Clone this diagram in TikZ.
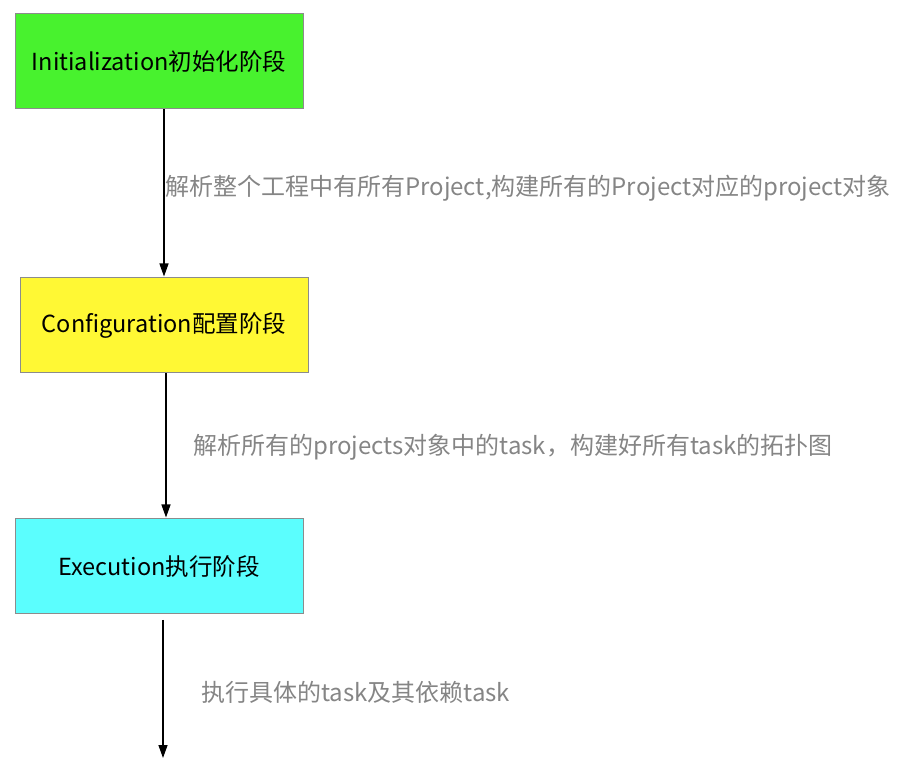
\documentclass[tikz,border=0pt]{standalone}
\usepackage{fontspec}
\setmainfont{Noto Sans CJK SC}
\usetikzlibrary{arrows.meta}
\definecolor{cgreen}{HTML}{48F22E}
\definecolor{cyellow}{HTML}{FFF834}
\definecolor{ccyan}{HTML}{5BFEFE}
\definecolor{cborder}{HTML}{8C8C8C}
\definecolor{clabel}{HTML}{858585}
\begin{document}
\begin{tikzpicture}[x=1pt,y=1pt,
  stage/.style={draw=cborder,line width=1pt,minimum width=288pt,minimum height=95pt,inner sep=0pt,
    font=\fontsize{23.5}{27}\selectfont,text=black},
  lbl/.style={anchor=west,inner sep=0pt,text=clabel,font=\fontsize{24}{28}\selectfont},
  flow/.style={line width=1.3pt,-{Triangle[length=13pt,width=9pt]}}]
\useasboundingbox (0,0) rectangle (922,772);
\node[stage,fill=cgreen] (b1) at (159,710.5) {Initialization初始化阶段};
\node[stage,fill=cyellow] (b2) at (164,446.5) {Configuration配置阶段};
\node[stage,fill=ccyan] (b3) at (159,205.5) {Execution执行阶段};
\coordinate (end3) at (163,14);
\coordinate (start3) at (163,152);
\draw[flow] ([xshift=5pt]b1.south) -- ([xshift=0pt,yshift=1pt]b2.north);
\draw[flow] ([xshift=2pt]b2.south) -- ([xshift=7pt,yshift=1pt]b3.north);
\draw[flow] (start3) -- (end3);
\node[lbl] (l1) at (165,584) {解析整个工程中有所有Project,构建所有的Project对应的project对象};
\node[lbl] (l2) at (193,325) {解析所有的projects对象中的task，构建好所有task的拓扑图};
\node[lbl] (l3) at (201,80) {执行具体的task及其依赖task};
\end{tikzpicture}
\end{document}
